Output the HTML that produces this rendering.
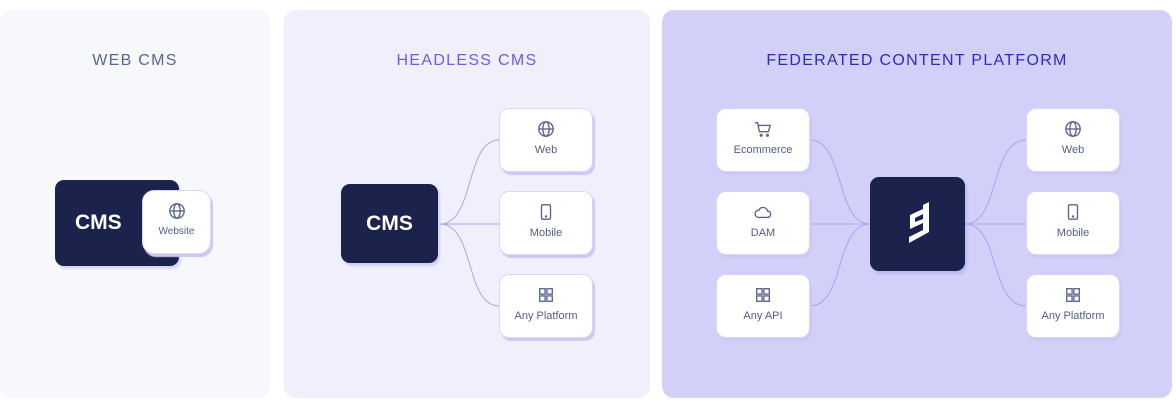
<!DOCTYPE html>
<html><head><style>
body{margin:0;width:1176px;height:400px;background:#fff;position:relative;overflow:hidden;font-family:"Liberation Sans",sans-serif}
.p{position:absolute;top:10px;height:388px;border-radius:12px}
.t{position:absolute;top:42px;width:100%;text-align:center;font-size:16px;letter-spacing:1.3px}
.d{position:absolute;background:#1b224c;border-radius:9px;color:#fff;font-weight:bold;font-size:21px;display:flex;align-items:center;justify-content:center;box-shadow:2px 3px 2px rgba(140,130,230,.3)}
.c{position:absolute;width:94px;height:64px;background:#fff;border:1px solid #d8d6fb;border-radius:10px;box-sizing:border-box;box-shadow:2px 3px 1px #cbc8f6;text-align:center;font-size:11px;color:#535c88}
.c svg{display:block;margin:11px auto 6px}
</style></head><body>
<div class="p" style="left:0;width:270px;background:#f7f8fb"><div class="t" style="color:#5b6690">WEB CMS</div></div>
<div class="p" style="left:284px;width:366px;background:#f0f0fd"><div class="t" style="color:#6a5cf0">HEADLESS CMS</div></div>
<div class="p" style="left:662px;width:510px;background:#d2d0f8"><div class="t" style="color:#2f2bbf;left:0">FEDERATED CONTENT PLATFORM</div></div>

<svg style="position:absolute;left:0;top:0" width="1176" height="400" fill="none" stroke="#a9a3f5" stroke-width="1">
<path d="M440 224 C475 224,465 140,499 140 M440 224 L499 224 M440 224 C475 224,465 306,499 306"/>
<path d="M810 140 C845 140,835 224,870 224 M810 224 L870 224 M810 306 C845 306,835 224,870 224"/>
<path d="M965 224 C1000 224,990 140,1026 140 M965 224 L1026 224 M965 224 C1000 224,990 306,1026 306"/>
</svg>

<div class="d" style="left:55px;top:180px;width:124px;height:86px;justify-content:flex-start;padding-left:20px;box-sizing:border-box">CMS</div>
<div class="c" style="left:142px;top:190px;width:69px;height:64px;font-size:10px;border-radius:12px"><svg width="18" height="18" viewBox="0 0 20 20" stroke="#5a6390" fill="none" stroke-width="1.5"><circle cx="10" cy="10" r="8"/><ellipse cx="10" cy="10" rx="3.5" ry="8"/><path d="M2 10h16"/></svg>Website</div>

<div class="d" style="left:341px;top:184px;width:97px;height:79px">CMS</div>
<div class="d" style="left:870px;top:177px;width:95px;height:94px"><svg width="30" height="46" viewBox="0 0 30 46"><path d="M20 4 L26 1 L26 31 L6 42 L6 36 L20 29 L20 22 L7 28 L7 14 L20 8 Z M12 17 L12 21 L20 18 L20 13 Z" fill="#fff" fill-rule="evenodd"/></svg></div>

<div class="c" style="left:499px;top:108px"><svg width="18" height="18" viewBox="0 0 20 20" stroke="#5a6390" fill="none" stroke-width="1.5"><circle cx="10" cy="10" r="8"/><ellipse cx="10" cy="10" rx="3.5" ry="8"/><path d="M2 10h16"/></svg>Web</div>
<div class="c" style="left:499px;top:191px"><svg width="18" height="18" viewBox="0 0 20 20" stroke="#5a6390" fill="none" stroke-width="1.5"><rect x="5" y="2" width="10" height="16" rx="1.5"/><circle cx="10" cy="15" r=".6"/></svg>Mobile</div>
<div class="c" style="left:499px;top:274px"><svg width="18" height="18" viewBox="0 0 20 20" stroke="#5a6390" fill="none" stroke-width="1.5"><rect x="3" y="3" width="6" height="6"/><rect x="11" y="3" width="6" height="6"/><rect x="3" y="11" width="6" height="6"/><rect x="11" y="11" width="6" height="6"/></svg>Any Platform</div>

<div class="c" style="left:716px;top:108px"><svg width="18" height="18" viewBox="0 0 20 20" stroke="#5a6390" fill="none" stroke-width="1.5"><path d="M1 3h3l2 10h10l2-7H5"/><circle cx="8" cy="17" r="1"/><circle cx="15" cy="17" r="1"/></svg>Ecommerce</div>
<div class="c" style="left:716px;top:191px"><svg width="18" height="18" viewBox="0 0 20 20" stroke="#5a6390" fill="none" stroke-width="1.5"><path d="M5 16h10a3.5 3.5 0 0 0 0-7 5 5 0 0 0-9.5-1A4 4 0 0 0 5 16z"/></svg>DAM</div>
<div class="c" style="left:716px;top:274px"><svg width="18" height="18" viewBox="0 0 20 20" stroke="#5a6390" fill="none" stroke-width="1.5"><rect x="3" y="3" width="6" height="6"/><rect x="11" y="3" width="6" height="6"/><rect x="3" y="11" width="6" height="6"/><rect x="11" y="11" width="6" height="6"/></svg>Any API</div>

<div class="c" style="left:1026px;top:108px"><svg width="18" height="18" viewBox="0 0 20 20" stroke="#5a6390" fill="none" stroke-width="1.5"><circle cx="10" cy="10" r="8"/><ellipse cx="10" cy="10" rx="3.5" ry="8"/><path d="M2 10h16"/></svg>Web</div>
<div class="c" style="left:1026px;top:191px"><svg width="18" height="18" viewBox="0 0 20 20" stroke="#5a6390" fill="none" stroke-width="1.5"><rect x="5" y="2" width="10" height="16" rx="1.5"/><circle cx="10" cy="15" r=".6"/></svg>Mobile</div>
<div class="c" style="left:1026px;top:274px"><svg width="18" height="18" viewBox="0 0 20 20" stroke="#5a6390" fill="none" stroke-width="1.5"><rect x="3" y="3" width="6" height="6"/><rect x="11" y="3" width="6" height="6"/><rect x="3" y="11" width="6" height="6"/><rect x="11" y="11" width="6" height="6"/></svg>Any Platform</div>
</body></html>
